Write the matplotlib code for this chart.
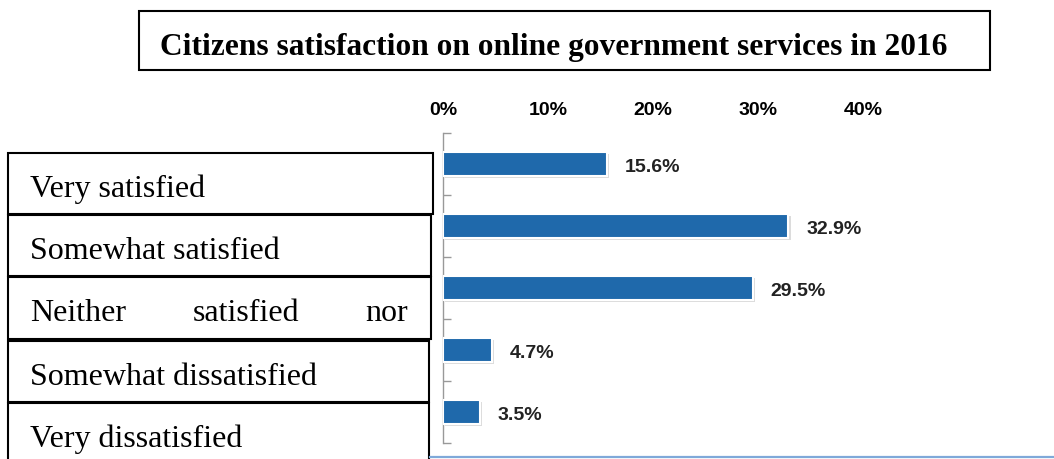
import matplotlib
matplotlib.use("Agg")
import matplotlib.pyplot as plt
import matplotlib.patheffects as pe
from matplotlib.patches import Rectangle

# Survey results
categories = ["Very satisfied", "Somewhat satisfied", "Neither satisfied nor",
              "Somewhat dissatisfied", "Very dissatisfied"]
values = [15.6, 32.9, 29.5, 4.7, 3.5]
xticks = [0, 10, 20, 30, 40]
xtick_labels = ["0%", "10%", "20%", "30%", "40%"]
title = "Citizens satisfaction on online government services in 2016"

W, H = 1054, 459
fig = plt.figure(figsize=(W / 100, H / 100), dpi=100)
fig.patch.set_facecolor("white")

# Overlay in pixel coordinates for boxes and title
ov = fig.add_axes([0, 0, 1, 1], zorder=0)
ov.set_xlim(0, W)
ov.set_ylim(H, 0)
ov.axis("off")

# Title box
ov.add_patch(Rectangle((139, 11), 851, 59, fill=False, edgecolor="black", lw=1.5, zorder=3))
ov.text(160, 55, title, fontsize=22.6, fontweight="bold", family="Liberation Serif",
        ha="left", va="baseline", zorder=4)

# Category label boxes
rows = [(153, 214, 433), (215, 276, 431), (277, 339, 431), (341, 402, 429), (403, 470, 429)]
for (top, bot, right), name in zip(rows, categories):
    ov.add_patch(Rectangle((8, top), right - 8, bot - top, facecolor="white",
                           edgecolor="black", lw=1.5, zorder=3))
    if name.startswith("Neither"):
        words = name.split()
        for wx, word in zip([30, 193, 365], words):
            ov.text(wx, top + 44, word, fontsize=23, family="Liberation Serif",
                    ha="left", va="baseline", zorder=4)
    else:
        ov.text(30, top + 44, name, fontsize=23, family="Liberation Serif",
                ha="left", va="baseline", zorder=4)

# Bottom rule
ov.plot([430, W], [457, 457], color="#7fa9d9", lw=1.6, zorder=3)

# Bar chart axes
x0, y_top, y_bot = 443, 133, 443
xmax = 45
px_per_unit = 10.5
ax = fig.add_axes([x0 / W, 1 - y_bot / H, xmax * px_per_unit / W, (y_bot - y_top) / H],
                  zorder=2)
ax.patch.set_alpha(0)
n = len(categories)
ypos = list(range(n))
bars = ax.barh(ypos, values, height=0.38, color="#1f69ab", edgecolor="white",
               linewidth=1.5, zorder=3)
for b in bars:
    b.set_path_effects([pe.SimplePatchShadow(offset=(1.5, -1.5), shadow_rgbFace="#bbbbbb",
                                             alpha=0.5), pe.Normal()])
for y, v in zip(ypos, values):
    ax.text(v + 1.7, y + 0.05, f"{v}%", fontsize=14, fontweight="bold",
            family="Liberation Sans", color="#222222", ha="left", va="center", zorder=4)

ax.set_xlim(0, xmax)
ax.set_ylim(n - 0.5, -0.5)
ax.xaxis.tick_top()
ax.set_xticks(xticks)
ax.set_xticklabels(xtick_labels, fontsize=14, fontweight="bold", family="Liberation Sans")
ax.tick_params(axis="x", length=0, pad=10)
ax.set_yticks([i - 0.5 for i in range(n + 1)])
ax.set_yticklabels([])
ax.tick_params(axis="y", direction="in", length=6, color="#999999", width=1)
for s in ["top", "right", "bottom"]:
    ax.spines[s].set_visible(False)
ax.spines["left"].set_color("#999999")
ax.spines["left"].set_linewidth(1)

fig.savefig("out.png", dpi=100, facecolor="white")
